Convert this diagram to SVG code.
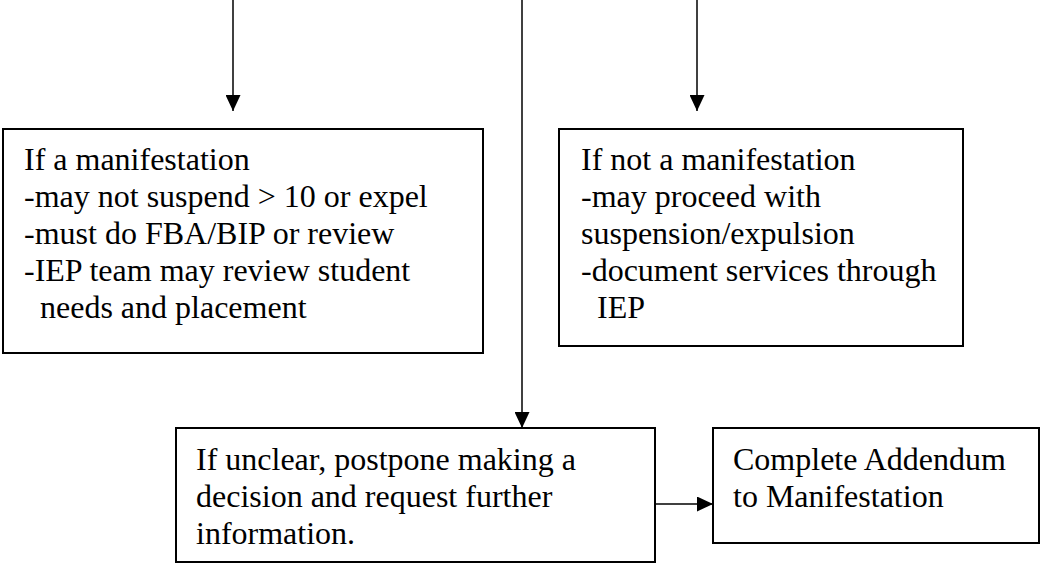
<svg xmlns="http://www.w3.org/2000/svg" width="1041" height="563" viewBox="0 0 1041 563">
<style>
.box{fill:#fff;stroke:#000;stroke-width:2}
.t{font-family:"Liberation Serif","Times New Roman",serif;font-size:32px;fill:#000}
.c{stroke:#000;stroke-width:1.5;fill:none}
</style>
<defs>
<marker id="ah" markerUnits="userSpaceOnUse" markerWidth="16" markerHeight="15" refX="16" refY="7.5" orient="auto" viewBox="0 0 16 15">
<path d="M0,0 L16,7.5 L0,15 Z" fill="#000"/>
</marker>
</defs>
<rect width="1041" height="563" fill="#fff"/>
<g id="connectors">
<line class="c" x1="233" y1="0" x2="233" y2="111" marker-end="url(#ah)"/>
<line class="c" x1="697" y1="0" x2="697" y2="111" marker-end="url(#ah)"/>
<line class="c" x1="522" y1="0" x2="522" y2="428" marker-end="url(#ah)"/>
<line class="c" x1="656" y1="504" x2="713" y2="504" marker-end="url(#ah)"/>
</g>
<g id="node-manifestation">
<rect class="box" x="3" y="129" width="480" height="224"/>
<text class="t" x="24" y="170">If a manifestation</text>
<text class="t" x="24" y="207">-may not suspend &gt; 10 or expel</text>
<text class="t" x="24" y="244">-must do FBA/BIP or review</text>
<text class="t" x="24" y="281">-IEP team may review student</text>
<text class="t" x="24" y="318" xml:space="preserve">  needs and placement</text>
</g>
<g id="node-not-manifestation">
<rect class="box" x="559" y="129" width="404" height="217"/>
<text class="t" x="581" y="170">If not a manifestation</text>
<text class="t" x="581" y="207">-may proceed with</text>
<text class="t" x="581" y="244">suspension/expulsion</text>
<text class="t" x="581" y="281">-document services through</text>
<text class="t" x="581" y="318" xml:space="preserve">  IEP</text>
</g>
<g id="node-unclear">
<rect class="box" x="176" y="428" width="479" height="134"/>
<text class="t" x="196" y="470">If unclear, postpone making a</text>
<text class="t" x="196" y="507">decision and request further</text>
<text class="t" x="196" y="544">information.</text>
</g>
<g id="node-addendum">
<rect class="box" x="713" y="428" width="326" height="115"/>
<text class="t" x="733" y="470">Complete Addendum</text>
<text class="t" x="733" y="507">to Manifestation</text>
</g>
</svg>
